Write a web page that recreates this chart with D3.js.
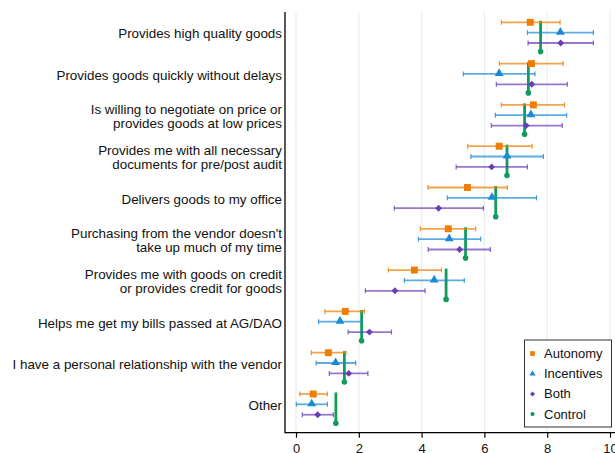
<!DOCTYPE html>
<html><head><meta charset="utf-8">
<script src="https://cdn.jsdelivr.net/npm/d3@7"></script>
<style>body{margin:0;background:#fff}svg{display:block;font-family:"Liberation Sans",Arial,sans-serif}</style>
</head><body><svg id="c" width="615" height="453"></svg>
<script>
const categories = [
  ["Provides high quality goods"],
  ["Provides goods quickly without delays"],
  ["Is willing to negotiate on price or","provides goods at low prices"],
  ["Provides me with all necessary","documents for pre/post audit"],
  ["Delivers goods to my office"],
  ["Purchasing from the vendor doesn't","take up much of my time"],
  ["Provides me with goods on credit","or provides credit for goods"],
  ["Helps me get my bills passed at AG/DAO"],
  ["I have a personal relationship with the vendor"],
  ["Other"]
];
const autonomy      = [7.46, 7.50, 7.56, 6.47, 5.46, 4.85, 3.77, 1.57, 1.03, 0.55];
const autonomyLo    = [6.54, 6.48, 6.54, 5.47, 4.20, 3.96, 2.94, 0.92, 0.49, 0.12];
const autonomyHi    = [8.41, 8.51, 8.55, 7.52, 6.73, 5.72, 4.63, 2.18, 1.59, 1.00];
const incentives    = [8.42, 6.47, 7.48, 6.72, 6.24, 4.88, 4.40, 1.40, 1.26, 0.50];
const incentivesLo  = [7.37, 5.33, 6.35, 5.57, 4.82, 3.90, 3.45, 0.72, 0.64, 0.01];
const incentivesHi  = [9.47, 7.61, 8.62, 7.88, 7.66, 5.88, 5.36, 2.10, 1.90, 1.00];
const both          = [8.43, 7.51, 7.33, 6.23, 4.54, 5.21, 3.15, 2.34, 1.68, 0.69];
const bothLo        = [7.39, 6.38, 6.22, 5.10, 3.13, 4.21, 2.21, 1.66, 1.06, 0.20];
const bothHi        = [9.47, 8.64, 8.48, 7.37, 5.97, 6.19, 4.11, 3.04, 2.29, 1.19];
const control       = [7.79, 7.40, 7.28, 6.72, 6.36, 5.40, 4.78, 2.09, 1.54, 1.27];
const xTicks = [0, 2, 4, 6, 8, 10];
const seriesNames = ["Autonomy", "Incentives", "Both", "Control"];

const colors = {Autonomy:"#f07c00", Incentives:"#1a8ad4", Both:"#6a3db8", Control:"#129b5b"};
const series = [
  {name:"Autonomy", v:autonomy, lo:autonomyLo, hi:autonomyHi, sym:d3.symbolSquare, size:48, off:0},
  {name:"Incentives", v:incentives, lo:incentivesLo, hi:incentivesHi, sym:d3.symbolTriangle, size:34, off:1},
  {name:"Both", v:both, lo:bothLo, hi:bothHi, sym:d3.symbolDiamond2, size:30, off:2}
];

const svg = d3.select("#c");
const x = d3.scaleLinear().domain([0,10]).range([296, 610]);
const y = d3.scaleLinear().domain([0, 9]).range([22.3, 394]);
const sub = [0, 10.3, 20.7, 29.3];
const plotTop = 12, plotBottom = 432.7, plotLeft = 285;

svg.append("g").selectAll("line").data(xTicks).join("line")
  .attr("x1", d=>x(d)).attr("x2", d=>x(d)).attr("y1", plotTop).attr("y2", plotBottom)
  .attr("stroke", "#e7eff3").attr("stroke-width", 1.2);

const xAxis = d3.axisBottom(x).tickValues(xTicks).tickSize(5).tickPadding(6).tickSizeOuter(0);
const gx = svg.append("g").attr("transform", `translate(0,${plotBottom})`).call(xAxis);
gx.select(".domain").remove();
gx.append("line").attr("x1", plotLeft).attr("x2", 615).attr("y1", 0).attr("y2", 0).attr("stroke", "#000").attr("stroke-width", 1.3);
gx.selectAll(".tick line").attr("stroke", "#000").attr("stroke-width", 1.2);
gx.selectAll(".tick text").attr("font-size", 13).attr("fill", "#111").attr("font-family", "Liberation Sans, Arial, sans-serif");
svg.append("line").attr("x1", plotLeft).attr("x2", plotLeft).attr("y1", plotTop).attr("y2", plotBottom+0.6).attr("stroke", "#000").attr("stroke-width", 1.3);

const lab = svg.append("g").attr("font-size", 13.4).attr("fill", "#111").attr("text-anchor", "end");
categories.forEach((lines, i) => {
  const cy = y(i) + 11.5;
  const n = lines.length;
  lines.forEach((t, j) => {
    lab.append("text").attr("x", 282).attr("y", cy + (j - (n-1)/2) * 14).attr("dy", "0.35em").text(t);
  });
});

const cg = svg.append("g");
control.forEach((v, i) => {
  cg.append("line").attr("x1", x(v)).attr("x2", x(v))
    .attr("y1", y(i) + sub[0] - 1.5).attr("y2", y(i) + sub[3] - 1.5)
    .attr("stroke", colors.Control).attr("stroke-width", 2.8);
  cg.append("circle").attr("cx", x(v)).attr("cy", y(i) + sub[3]).attr("r", 2.8).attr("fill", colors.Control);
});

series.forEach(s => {
  const g = svg.append("g");
  const c = colors[s.name];
  s.v.forEach((v, i) => {
    const yy = y(i) + sub[s.off];
    g.append("line").attr("x1", x(s.lo[i])).attr("x2", x(s.hi[i])).attr("y1", yy).attr("y2", yy)
      .attr("stroke", c).attr("stroke-width", 1.8).attr("stroke-opacity", 0.7);
    [s.lo[i], s.hi[i]].forEach(e => {
      g.append("line").attr("x1", x(e)).attr("x2", x(e)).attr("y1", yy-2.5).attr("y2", yy+2.5)
        .attr("stroke", c).attr("stroke-width", 1.2).attr("stroke-opacity", 0.8);
    });
    g.append("path").attr("d", d3.symbol(s.sym, s.size)())
      .attr("transform", `translate(${x(v)},${yy + (s.sym===d3.symbolTriangle?-0.5:0)})`).attr("fill", c);
  });
});

const lg = svg.append("g");
lg.append("rect").attr("x", 524.5).attr("y", 340).attr("width", 87).attr("height", 87)
  .attr("fill", "#fff").attr("stroke", "#333").attr("stroke-width", 1);
const legSyms = [d3.symbolSquare, d3.symbolTriangle, d3.symbolDiamond2, d3.symbolCircle];
const legSize = [22, 16, 16, 14];
seriesNames.forEach((n, i) => {
  const yy = 353.5 + i * 20.2;
  lg.append("path").attr("d", d3.symbol(legSyms[i], legSize[i])()).attr("transform", `translate(532.5,${yy})`).attr("fill", colors[n]);
  lg.append("text").attr("x", 544).attr("y", yy).attr("dy", "0.35em").attr("font-size", 13).attr("fill", "#111").text(n);
});
</script></body></html>
